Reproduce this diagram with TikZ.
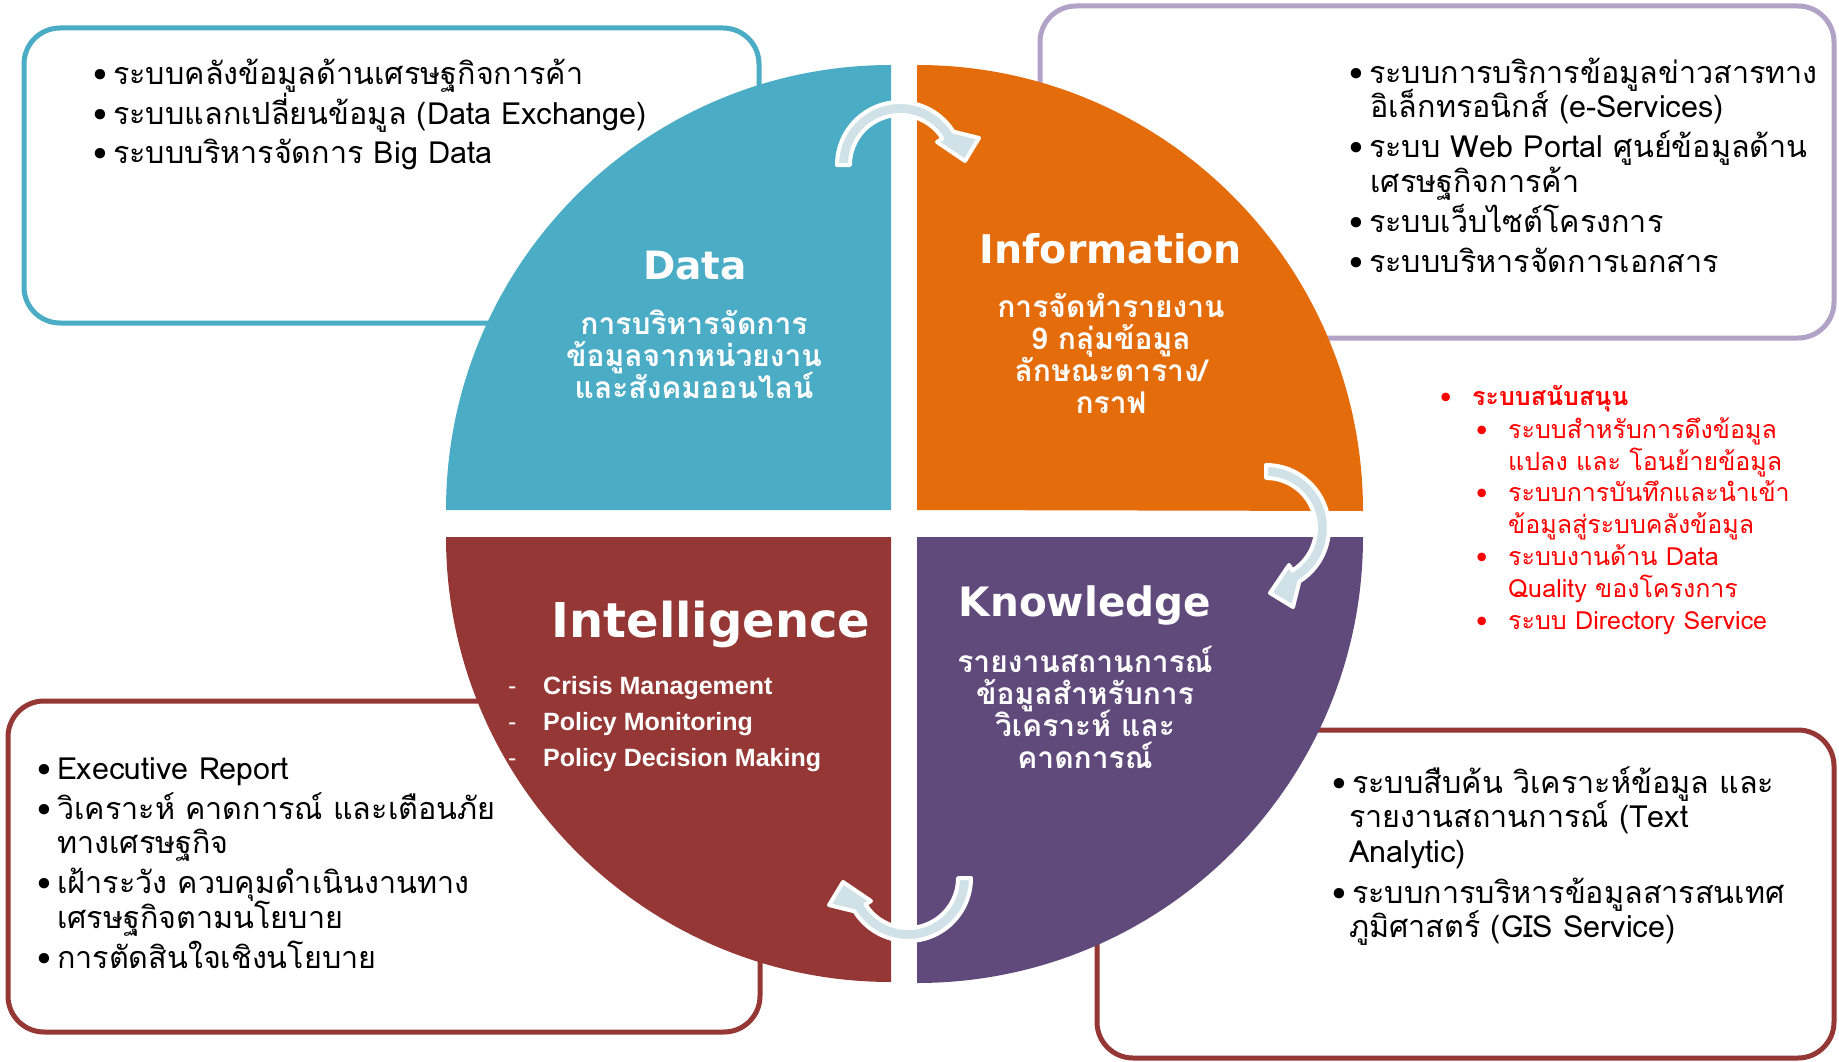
\documentclass[tikz,border=0pt]{standalone}
\usepackage{fontspec}
\setmainfont[Script=Thai]{Loma}
\newfontfamily\titlefont{DejaVu Sans}
\newfontfamily\listfont{Liberation Sans}
\usepackage{tikz}
\usetikzlibrary{shapes, arrows, calc}

\definecolor{datateal}{RGB}{75,172,198}
\definecolor{infoorange}{RGB}{228,108,10}
\definecolor{intelred}{RGB}{149,55,53}
\definecolor{knowpurple}{RGB}{96,74,123}
\definecolor{infoframe}{RGB}{179,162,199}
\definecolor{cyclecol}{RGB}{208,226,232}

\setlength{\lineskiplimit}{-99pt}

\tikzstyle{frame} = [rounded corners=36pt, line width=5pt, fill=white]
\tikzstyle{cyclearrow} = [fill=cyclecol, draw=white, line width=4pt, line join=round]
\tikzstyle{bullets} = [anchor=base west, align=left, inner sep=0pt,
    font=\fontsize{30.5}{34.5}\selectfont]
\tikzstyle{support} = [anchor=base west, align=left, inner sep=0pt, text=red,
    font=\fontsize{25}{31.8}\selectfont]
\tikzstyle{heading} = [anchor=base, inner sep=0pt, text=white]
\tikzstyle{caption} = [anchor=base, align=center, inner sep=0pt, text=white,
    font=\bfseries\fontsize{30}{31.7}\selectfont]

\newcommand{\bitem}[1][20pt]{\makebox[#1][l]{•}}

\begin{document}
\begin{tikzpicture}[x=1pt, y=-1pt]
    \useasboundingbox (0,0) rectangle (1839,1062);
    % Frames
    \draw[frame, draw=datateal] (24,28) rectangle (759,323);
    \draw[frame, draw=infoframe] (1040,6) rectangle (1834,338);
    \draw[frame, draw=intelred] (8,701) rectangle (760,1032);
    \draw[frame, draw=intelred] (1097,730) rectangle (1834,1058);
    % Quarters
    \fill[datateal] (891,510) -- (446,510) arc[start angle=180, end angle=270, radius=445] -- cycle;
    \fill[infoorange] (917,510) -- (917,65) arc[start angle=270, end angle=360, radius=446] -- cycle;
    \fill[intelred] (891,537) -- (446,537) arc[start angle=180, end angle=90, radius=445] -- cycle;
    \fill[knowpurple] (917,537) -- (1363,537) arc[start angle=0, end angle=90, radius=446] -- cycle;
    % Arrows
    \foreach \cx/\cy/\turn in {900/165/0, 1266/528/-90, 908/878/180} {
        \draw[cyclearrow, shift={(\cx,\cy)}, rotate=\turn]
            (180:63) arc[start angle=180, end angle=328, radius=63]
            -- (79,-27) -- (65,-4) -- (37,-23) -- (328:50)
            arc[start angle=328, end angle=180, radius=50] -- cycle;
    }
    % Nodes
    \node[heading, font=\titlefont\bfseries\fontsize{39}{46}\selectfont] (datatitle) at (695,279) {Data};
    \node[caption] (datatext) at (694,398) {การบริหารจัดการ\\ข้อมูลจากหน่วยงาน\\และสังคมออนไลน์};
    \node[heading, font=\titlefont\bfseries\fontsize{39.5}{46}\selectfont] (infotitle) at (1111,263) {Information};
    \node[caption] (infotext) at (1111,413) {การจัดทำรายงาน\\9 กลุ่มข้อมูล\\ลักษณะตาราง/\\กราฟ};
    \node[heading, font=\titlefont\bfseries\fontsize{48}{56}\selectfont] (inteltitle) at (711,637) {Intelligence};
    \node[bullets, text=white, font=\listfont\bfseries\fontsize{25}{36}\selectfont] (inteltext) at (508,766)
        {\makebox[35pt][l]{\mdseries -}Crisis Management\\\makebox[35pt][l]{\mdseries -}Policy Monitoring\\\makebox[35pt][l]{\mdseries -}Policy Decision Making};
    \node[heading, font=\titlefont\bfseries\fontsize{40.5}{48}\selectfont] (knowtitle) at (1085,616) {Knowledge};
    \node[caption] (knowtext) at (1085,768) {รายงานสถานการณ์\\ข้อมูลสำหรับการ\\วิเคราะห์ และ\\คาดการณ์};
    % Lists
    \node[bullets] (datalist) at (93,164)
        {\bitem ระบบคลังข้อมูลด้านเศรษฐกิจการค้า\\[5pt]
         \bitem ระบบแลกเปลี่ยนข้อมูล (Data Exchange)\\[5pt]
         \bitem ระบบบริหารจัดการ Big Data};
    \node[bullets] (infolist) at (1349,272)
        {\bitem ระบบการบริการข้อมูลข่าวสารทาง\\[-0.5pt]
         \hspace*{21pt}อิเล็กทรอนิกส์ (e-Services)\\[6pt]
         \bitem ระบบ Web Portal ศูนย์ข้อมูลด้าน\\[0pt]
         \hspace*{21pt}เศรษฐกิจการค้า\\[5.5pt]
         \bitem ระบบเว็บไซต์โครงการ\\[5.5pt]
         \bitem ระบบบริหารจัดการเอกสาร};
    \node[support] (supportlist) at (1440,629)
        {\bitem[32pt]\textbf{ระบบสนับสนุน}\\[1pt]
         \hspace*{36pt}\bitem[32pt]ระบบสำหรับการดึงข้อมูล\\
         \hspace*{68pt}แปลง และ โอนย้ายข้อมูล\\
         \hspace*{36pt}\bitem[32pt]ระบบการบันทึกและนำเข้า\\
         \hspace*{68pt}ข้อมูลสู่ระบบคลังข้อมูล\\
         \hspace*{36pt}\bitem[32pt]ระบบงานด้าน Data\\
         \hspace*{68pt}Quality ของโครงการ\\
         \hspace*{36pt}\bitem[32pt]ระบบ Directory Service};
    \node[bullets] (intellist) at (37,968)
        {\bitem Executive Report\\[5.5pt]
         \bitem วิเคราะห์ คาดการณ์ และเตือนภัย\\
         \hspace*{20pt}ทางเศรษฐกิจ\\[5.5pt]
         \bitem เฝ้าระวัง ควบคุมดำเนินงานทาง\\
         \hspace*{20pt}เศรษฐกิจตามนโยบาย\\[5.5pt]
         \bitem การตัดสินใจเชิงนโยบาย};
    \node[bullets] (knowlist) at (1332,937)
        {\bitem ระบบสืบค้น วิเคราะห์ข้อมูล และ\\[-0.5pt]
         \hspace*{17pt}รายงานสถานการณ์ (Text\\[0pt]
         \hspace*{17pt}Analytic)\\[6.5pt]
         \bitem ระบบการบริหารข้อมูลสารสนเทศ\\[-0.5pt]
         \hspace*{17pt}ภูมิศาสตร์ (GIS Service)};
\end{tikzpicture}
\end{document}
